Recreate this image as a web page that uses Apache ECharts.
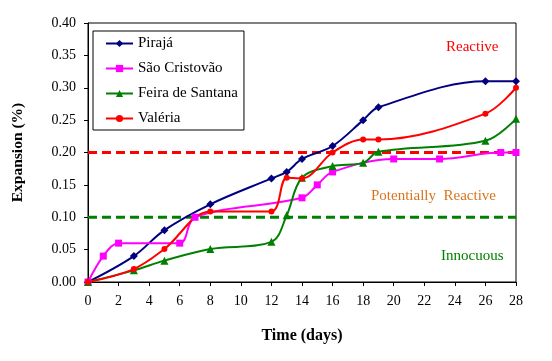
<!DOCTYPE html>
<html>
<head>
<meta charset="utf-8">
<script src="https://cdn.jsdelivr.net/npm/echarts@6/dist/echarts.min.js"></script>
<style>
  html, body { margin: 0; padding: 0; background: #fff; }
  #chart { width: 552px; height: 361px; }
</style>
</head>
<body>
<div id="chart"></div>
<script>
// dias de ensaio e expansao (%) de cada agregado
const dPiraja = [0, 3, 5, 8, 12, 13, 14, 16, 18, 19, 26, 28]
const vPiraja = [0, 0.04, 0.08, 0.12, 0.16, 0.17, 0.19, 0.21, 0.25, 0.27, 0.31, 0.31]
const dSao = [0, 1, 2, 6, 7, 14, 15, 16, 20, 23, 27, 28]
const vSao = [0, 0.04, 0.06, 0.06, 0.10, 0.13, 0.15, 0.17, 0.19, 0.19, 0.20, 0.20]
const dFeira = [0, 3, 5, 8, 12, 13, 14, 16, 18, 19, 26, 28]
const vFeira = [0, 0.018, 0.033, 0.051, 0.062, 0.103, 0.161, 0.179, 0.184, 0.201, 0.218, 0.252]
const dValeria = [0, 3, 5, 8, 12, 13, 14, 16, 18, 19, 26, 28]
const vValeria = [0, 0.02, 0.051, 0.109, 0.109, 0.161, 0.16, 0.20, 0.22, 0.22, 0.26, 0.30]
// limites
const limReactive = 0.20
const limInnocuous = 0.10

const font = 'Liberation Serif'
const pair = (xs, ys) => xs.map((x, i) => [x, ys[i]])

const myChart = echarts.init(document.getElementById('chart'))

function serie(name, color, symbol, size, xs, ys) {
  return {
    name: name,
    type: 'line',
    data: pair(xs, ys),
    smooth: 0.35,
    symbol: symbol,
    symbolSize: size,
    lineStyle: { color: color, width: 2 },
    itemStyle: { color: color },
    z: 3
  }
}

function limite(color, y) {
  return {
    type: 'line',
    data: [[0, y], [28, y]],
    symbol: 'none',
    silent: true,
    lineStyle: { color: color, width: 3, type: [9, 5] },
    z: 2
  }
}

myChart.setOption({
  animation: false,
  textStyle: { fontFamily: font },
  grid: {
    left: 88, right: 36, top: 23, bottom: 79,
    show: true, borderColor: '#000', borderWidth: 1
  },
  legend: {
    data: ['Pirajá', 'São Cristovão', 'Feira de Santana', 'Valéria'],
    orient: 'vertical',
    left: 93, top: 31,
    padding: [5, 6, 4, 12],
    itemWidth: 27, itemHeight: 9, itemGap: 10,
    borderColor: '#000', borderWidth: 1,
    textStyle: { fontFamily: font, fontSize: 15, color: '#000' }
  },
  xAxis: {
    type: 'value',
    min: 0, max: 28, interval: 2,
    name: 'Time (days)',
    nameLocation: 'middle',
    nameGap: 46,
    nameTextStyle: { fontFamily: font, fontSize: 16, fontWeight: 'bold', color: '#000' },
    axisLine: { lineStyle: { color: '#000' } },
    axisTick: { length: 4, lineStyle: { color: '#000' } },
    axisLabel: { fontFamily: font, fontSize: 14, color: '#000', margin: 12 },
    splitLine: { show: false }
  },
  yAxis: {
    type: 'value',
    min: 0, max: 0.4, interval: 0.05,
    name: 'Expansion (%)',
    nameLocation: 'middle',
    nameGap: 62,
    nameTextStyle: { fontFamily: font, fontSize: 15.5, fontWeight: 'bold', color: '#000' },
    axisLine: { show: true, lineStyle: { color: '#000' } },
    axisTick: { show: true, length: 4, lineStyle: { color: '#000' } },
    axisLabel: { fontFamily: font, fontSize: 14, color: '#000', margin: 12, formatter: v => v.toFixed(2) },
    splitLine: { show: false }
  },
  graphic: [
    { type: 'text', left: 446, top: 40, style: { text: 'Reactive', fill: '#FF0000', font: '15px ' + font } },
    { type: 'text', left: 371, top: 189, style: { text: 'Potentially  Reactive', fill: '#D8741E', font: '15px ' + font } },
    { type: 'text', left: 441, top: 249, style: { text: 'Innocuous', fill: '#008000', font: '15px ' + font } }
  ],
  series: [
    limite('#FF0000', limReactive),
    limite('#008000', limInnocuous),
    serie('Pirajá', '#000080', 'diamond', 8, dPiraja, vPiraja),
    serie('São Cristovão', '#FF00FF', 'rect', 7, dSao, vSao),
    serie('Feira de Santana', '#008000', 'triangle', 8, dFeira, vFeira),
    serie('Valéria', '#FF0000', 'circle', 6, dValeria, vValeria)
  ]
})
</script>
</body>
</html>
